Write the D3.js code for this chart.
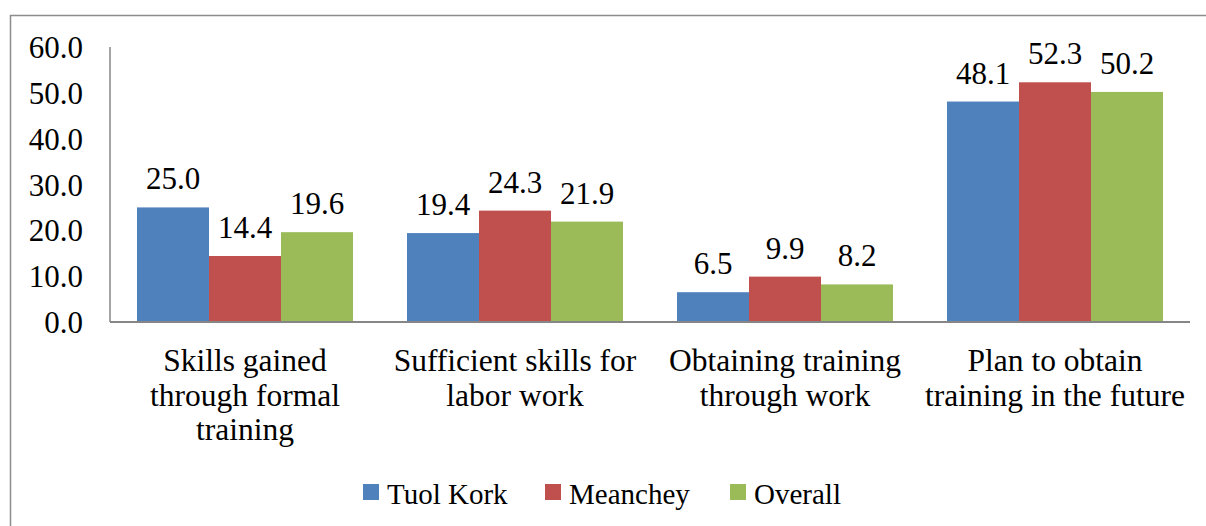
<!DOCTYPE html>
<html>
<head>
<meta charset="utf-8">
<script src="https://cdnjs.cloudflare.com/ajax/libs/d3/7.8.5/d3.min.js"></script>
<style>
  body { margin: 0; background: #fff; }
  svg, svg text { font-family: 'Liberation Serif', serif; fill: #000; }
</style>
</head>
<body>
<svg id="chart" width="1206" height="526" font-family="Liberation Serif"></svg>
<script>
// chart data
var categories = [
  ["Skills gained", "through formal", "training"],
  ["Sufficient skills for", "labor work"],
  ["Obtaining training", "through work"],
  ["Plan to obtain", "training in the future"]
];
var seriesNames = ["Tuol Kork", "Meanchey", "Overall"];
var tuolKork = [25.0, 19.4, 6.5, 48.1];
var meanchey = [14.4, 24.3, 9.9, 52.3];
var overall = [19.6, 21.9, 8.2, 50.2];
var yTicks = [0, 10, 20, 30, 40, 50, 60];
var colors = ["#4F81BD", "#C0504D", "#9BBB59"];

var seriesValues = [tuolKork, meanchey, overall];

var svg = d3.select("#chart");
var fontSize = 31;
var serif = "Liberation Serif";

// outer frame (runs off right and bottom)
svg.append("rect")
   .attr("x", 10.5).attr("y", 15.5)
   .attr("width", 1220).attr("height", 540)
   .attr("fill", "none")
   .attr("stroke", "#8c8c8c")
   .attr("stroke-width", 1.5);

var plotLeft = 110, plotRight = 1190, plotTop = 47, plotBottom = 322;

var x0 = d3.scaleBand()
    .domain(d3.range(categories.length))
    .range([plotLeft, plotRight])
    .paddingInner(0).paddingOuter(0);

// bars fill 80% of each category, 10% gap on each side
var x1 = d3.scaleBand()
    .domain(d3.range(seriesNames.length))
    .range([x0.bandwidth() * 0.1, x0.bandwidth() * 0.9])
    .padding(0);

var y = d3.scaleLinear().domain([0, 60]).range([plotBottom, plotTop]);

// y axis labels
var yAxis = d3.axisLeft(y).tickValues(yTicks).tickSize(0).tickPadding(27)
    .tickFormat(d3.format(".1f"));
var gy = svg.append("g").attr("transform", "translate(" + plotLeft + ",0)").call(yAxis);
gy.attr("font-family", serif).attr("font-size", null);
gy.select(".domain").remove();
gy.selectAll("text")
  .attr("font-family", serif)
  .attr("font-size", fontSize)
  .attr("dy", "0.34em");

// bars
var groups = svg.append("g").selectAll("g")
    .data(categories)
    .join("g")
    .attr("transform", function(d, i) { return "translate(" + x0(i) + ",0)"; });

groups.each(function(cat, ci) {
  var g = d3.select(this);
  seriesValues.forEach(function(vals, si) {
    g.append("rect")
     .attr("x", x1(si))
     .attr("y", y(vals[ci]))
     .attr("width", x1.bandwidth())
     .attr("height", y(0) - y(vals[ci]))
     .attr("fill", colors[si]);
    g.append("text")
     .attr("x", x1(si) + x1.bandwidth() / 2)
     .attr("y", y(vals[ci]) - 18)
     .attr("text-anchor", "middle")
     .attr("font-family", serif)
     .attr("font-size", fontSize)
     .text(d3.format(".1f")(vals[ci]));
  });
});

// axis lines
svg.append("line")
   .attr("x1", plotLeft).attr("x2", plotLeft)
   .attr("y1", plotTop).attr("y2", plotBottom)
   .attr("stroke", "#868686").attr("stroke-width", 1.5);
svg.append("line")
   .attr("x1", plotLeft).attr("x2", plotRight)
   .attr("y1", plotBottom).attr("y2", plotBottom)
   .attr("stroke", "#868686").attr("stroke-width", 2);

// category labels
var xl = svg.append("g");
categories.forEach(function(lines, i) {
  var t = xl.append("text")
     .attr("text-anchor", "middle")
     .attr("font-family", serif)
     .attr("font-size", 31.5);
  lines.forEach(function(line, li) {
    t.append("tspan")
     .attr("x", x0(i) + x0.bandwidth() / 2)
     .attr("y", 371 + li * 34.5)
     .text(line);
  });
});

// legend
var legendX = [363, 545, 730];
var legend = svg.append("g");
seriesNames.forEach(function(name, i) {
  legend.append("rect")
     .attr("x", legendX[i]).attr("y", 484)
     .attr("width", 16).attr("height", 16)
     .attr("fill", colors[i]);
  legend.append("text")
     .attr("x", legendX[i] + 24).attr("y", 504)
     .attr("font-family", serif)
     .attr("font-size", 29)
     .text(name);
});
</script>
</body>
</html>
